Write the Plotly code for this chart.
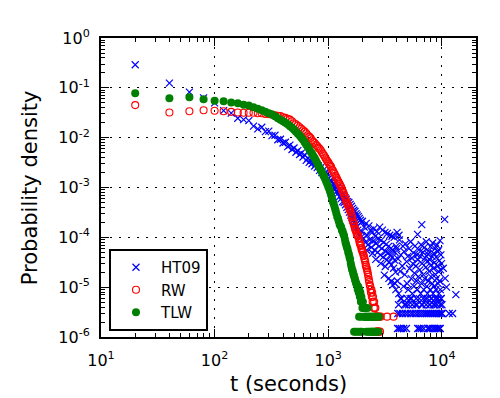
import plotly.graph_objects as go

# 20 s bins shared by the three curves up to 1000 s
t_head = [20, 40, 60, 80, 100, 120, 140, 160, 180, 200,
          220, 240, 260, 280, 300, 320, 340, 360, 380, 400,
          420, 440, 460, 480, 500, 520, 540, 560, 580, 600,
          620, 640, 660, 680, 700, 720, 740, 760, 780, 800,
          820, 840, 860, 880, 900, 920, 940, 960, 980, 1000]

ht09_head = [0.29, 0.124, 0.082, 0.063, 0.050, 0.035, 0.031, 0.0245, 0.023, 0.022,
             0.017, 0.015, 0.0162, 0.0132, 0.0135, 0.011, 0.0112, 0.0091, 0.0093, 0.0078,
             0.0081, 0.0066, 0.0071, 0.0058, 0.0062, 0.0051, 0.0055, 0.0046, 0.0049, 0.0041,
             0.0045, 0.0035, 0.0039, 0.0032, 0.0035, 0.0030, 0.0032, 0.0027, 0.0030, 0.0025,
             0.0027, 0.0022, 0.0025, 0.0020, 0.0022, 0.0018, 0.0020, 0.0016, 0.0019, 0.0015]

rw_head = [0.045, 0.032, 0.034, 0.0355, 0.0347, 0.034, 0.033, 0.032, 0.0316, 0.0316,
           0.0316, 0.031, 0.031, 0.030, 0.0295, 0.029, 0.028, 0.0275, 0.027, 0.0257,
           0.025, 0.024, 0.023, 0.0214, 0.0195, 0.0186, 0.0174, 0.0162, 0.0151, 0.0141,
           0.0132, 0.0123, 0.0112, 0.0105, 0.0098, 0.0089, 0.0083, 0.0078, 0.0072, 0.0068,
           0.0063, 0.0060, 0.0056, 0.0051, 0.0047, 0.0044, 0.0040, 0.0037, 0.0034, 0.0032]

tlw_head = [0.078, 0.062, 0.065, 0.059, 0.055, 0.054, 0.051, 0.049, 0.046, 0.044,
            0.041, 0.038, 0.0355, 0.033, 0.031, 0.029, 0.027, 0.0245, 0.023, 0.0214,
            0.020, 0.0186, 0.017, 0.0158, 0.0145, 0.0132, 0.012, 0.011, 0.0100, 0.0091,
            0.0081, 0.0072, 0.0066, 0.0059, 0.0052, 0.0048, 0.0043, 0.0039, 0.0035, 0.0031,
            0.00275, 0.0025, 0.00224, 0.00204, 0.00182, 0.00166, 0.00148, 0.00132, 0.00117, 0.00105]

# HT09 tail, 1020-1980 s
ht09_t_a = [1020, 1040, 1060, 1080, 1100, 1120, 1140, 1160, 1180, 1200,
            1220, 1240, 1260, 1280, 1300, 1320, 1340, 1360, 1380, 1400,
            1420, 1440, 1460, 1480, 1500, 1520, 1540, 1560, 1580, 1600,
            1620, 1640, 1660, 1680, 1700, 1720, 1740, 1760, 1780, 1800,
            1820, 1840, 1860, 1880, 1900, 1920, 1940, 1960, 1980]
ht09_p_a = [1.26e-3, 1.38e-3, 1.12e-3, 1.32e-3, 1.07e-3, 1.2e-3, 9.5e-4, 1.1e-3, 8.3e-4, 1.0e-3,
            7.6e-4, 8.9e-4, 6.6e-4, 8.3e-4, 6.0e-4, 7.2e-4, 5.2e-4, 6.9e-4, 5.0e-4, 6.3e-4,
            4.5e-4, 5.8e-4, 4.0e-4, 5.2e-4, 3.6e-4, 5.0e-4, 3.2e-4, 4.6e-4, 2.8e-4, 4.2e-4,
            2.5e-4, 3.8e-4, 2.2e-4, 3.5e-4, 2.0e-4, 3.3e-4, 1.8e-4, 3.0e-4, 1.6e-4, 2.8e-4,
            1.4e-4, 2.6e-4, 1.2e-4, 2.4e-4, 1.1e-4, 2.2e-4, 1.0e-4, 2.0e-4, 1.3e-4]

# HT09 tail, 2000-3960 s
ht09_t_b = [2000, 2040, 2080, 2120, 2160, 2200, 2240, 2280, 2320, 2360,
            2400, 2440, 2480, 2520, 2560, 2600, 2640, 2680, 2720, 2760,
            2800, 2840, 2880, 2920, 2960, 3000, 3040, 3080, 3120, 3160,
            3200, 3240, 3280, 3320, 3360, 3400, 3440, 3480, 3520, 3560,
            3600, 3640, 3680, 3720, 3760, 3800, 3840, 3880, 3920, 3960,
            2180, 2460, 2620, 2900, 3180, 3420, 3580, 3700, 3860, 3940]
ht09_p_b = [2.1e-4, 9.5e-5, 1.6e-4, 7.9e-5, 1.9e-4, 1.1e-4, 7.1e-5, 1.7e-4, 8.9e-5, 1.4e-4,
            6.3e-5, 1.26e-4, 8.3e-5, 1.5e-4, 5.6e-5, 1.05e-4, 7.6e-5, 1.3e-4, 5.0e-5, 9.5e-5,
            6.6e-5, 1.6e-4, 4.4e-5, 8.7e-5, 6.0e-5, 1.4e-4, 4.0e-5, 7.9e-5, 1.74e-5, 1.26e-4,
            5.2e-5, 7.2e-5, 3.5e-5, 1.2e-4, 4.8e-5, 6.6e-5, 3.2e-5, 1.1e-4, 4.4e-5, 6.0e-5,
            2.8e-5, 1.05e-4, 4.0e-5, 5.5e-5, 2.4e-5, 1.0e-4, 3.5e-5, 5.0e-5, 2.0e-5, 6.6e-5,
            5.5e-5, 4.8e-5, 3.6e-5, 3.0e-5, 2.6e-5, 1.5e-5, 1.3e-5, 1.1e-5, 1.2e-5, 8.9e-6]

# HT09 tail, 4000-9940 s
ht09_t_c = [4000, 4060, 4120, 4180, 4240, 4300, 4360, 4420, 4480, 4540,
            4600, 4660, 4720, 4780, 4840, 4900, 4960, 5020, 5080, 5140,
            5200, 5260, 5320, 5380, 5440, 5500, 5560, 5620, 5680, 5740,
            5800, 5860, 5920, 5980, 6040, 6100, 6160, 6220, 6280, 6340,
            6400, 6460, 6520, 6580, 6640, 6700, 6760, 6820, 6880, 6940,
            7000, 7060, 7120, 7180, 7240, 7300, 7360, 7420, 7480, 7540,
            7600, 7660, 7720, 7780, 7840, 7900, 7960, 8020, 8080, 8140,
            8200, 8260, 8320, 8380, 8440, 8500, 8560, 8620, 8680, 8740,
            8800, 8860, 8920, 8980, 9040, 9100, 9160, 9220, 9280, 9340,
            9400, 9460, 9520, 9580, 9640, 9700, 9760, 9820, 9880, 9940]
ht09_p_c = [5.92e-5, 1.33e-5, 3.7e-5, 7.4e-6, 8.88e-5, 2.07e-5, 4.44e-5, 5.9e-6, 2.66e-5, 6.66e-5,
            1.04e-5, 5.18e-5, 1.78e-5, 7.4e-5, 4.4e-6, 3.26e-5, 1.18e-5, 4.14e-5, 8.9e-6, 5.92e-5,
            2.37e-5, 5.9e-6, 8.14e-5, 1.48e-5, 3.85e-5, 7.4e-6, 2.96e-5, 4.88e-5, 1.04e-5, 1.92e-5,
            6.66e-5, 4.4e-6, 2.66e-5, 1.33e-5, 4.44e-5, 8.9e-6, 3.55e-5, 1.63e-5, 5.62e-5, 5.9e-6,
            2.22e-5, 4.14e-5, 7.4e-6, 7.1e-5, 1.18e-5, 2.96e-5, 4.4e-6, 5.03e-5, 1.78e-5, 8.9e-6,
            6.22e-5, 1.48e-5, 3.85e-5, 5.9e-6, 2.52e-5, 8.14e-5, 1.04e-5, 3.26e-5, 7.4e-6, 4.59e-5,
            1.33e-5, 5.33e-5, 2.07e-5, 4.4e-6, 3.55e-5, 8.9e-6, 6.51e-5, 1.63e-5, 2.81e-5, 5.9e-6,
            4.14e-5, 1.18e-5, 7.7e-5, 7.4e-6, 2.37e-5, 4.74e-5, 1.04e-5, 3.11e-5, 4.4e-6, 5.92e-5,
            1.78e-5, 8.9e-6, 4.0e-5, 1.48e-5, 6.96e-5, 5.9e-6, 2.66e-5, 5.18e-5, 1.18e-5, 2.07e-5,
            5.62e-5, 7.4e-6, 3.4e-5, 1.33e-5, 8.58e-5, 8.9e-6, 2.22e-5, 4.44e-5, 5.9e-6, 2.96e-5]

# HT09 low-count bins and stray points
ht09_t_low = [4080, 4220, 4400, 4620, 4880, 6140, 6320, 6580, 6920, 7520, 7720, 7940, 8320, 8620, 8880, 9180, 9460, 9700,
              4100, 4280, 4520, 4780, 5020, 5320, 5580, 5880, 6180, 6480, 6780, 7100, 7400, 7700, 8020, 8340,
              8660, 8980, 9300, 9620, 9960, 10100, 11600, 12440,
              4160, 4700, 5100, 5500, 6040, 6640, 7280, 7880, 8480, 9080, 9680, 10040,
              4340, 4940, 5400, 5960, 6860, 7460, 8060, 8760, 9240, 9860,
              4040, 4200, 6120, 6660, 10600, 13300, 10300, 10700, 11000]
ht09_p_low = [1.48e-6, 1.48e-6, 1.48e-6, 1.48e-6, 1.48e-6, 1.48e-6, 1.48e-6, 1.48e-6, 1.48e-6,
              1.48e-6, 1.48e-6, 1.48e-6, 1.48e-6, 1.48e-6, 1.48e-6, 1.48e-6, 1.48e-6, 1.48e-6,
              2.96e-6, 2.96e-6, 2.96e-6, 2.96e-6, 2.96e-6, 2.96e-6, 2.96e-6, 2.96e-6, 2.96e-6, 2.96e-6,
              2.96e-6, 2.96e-6, 2.96e-6, 2.96e-6, 2.96e-6, 2.96e-6, 2.96e-6, 2.96e-6, 2.96e-6, 2.96e-6,
              2.96e-6, 2.96e-6, 2.96e-6, 2.96e-6,
              4.44e-6, 4.44e-6, 4.44e-6, 4.44e-6, 4.44e-6, 4.44e-6, 4.44e-6, 4.44e-6, 4.44e-6, 4.44e-6,
              4.44e-6, 4.44e-6,
              5.92e-6, 5.92e-6, 5.92e-6, 5.92e-6, 5.92e-6, 5.92e-6, 5.92e-6, 5.92e-6, 5.92e-6, 5.92e-6,
              1.26e-4, 1.1e-4, 1.15e-4, 1.8e-4, 2.3e-4, 7.1e-6, 2.4e-5, 1.5e-5, 1.0e-5]

rw_t_tail = [1020, 1040, 1060, 1080, 1100, 1120, 1140, 1160, 1180, 1200,
             1220, 1240, 1260, 1280, 1300, 1320, 1340, 1360, 1380, 1400,
             1420, 1440, 1460, 1480, 1500, 1520, 1540, 1560, 1580, 1600,
             1620, 1640, 1660, 1680, 1700, 1720, 1740, 1760, 1780, 1800,
             1820, 1840, 1860, 1880, 1900, 1920, 1940, 1960, 1980, 2000,
             2020, 2040, 2060, 2080, 2100, 2120, 2140, 2160, 2180, 2200,
             2220, 2240, 2260, 2280, 2300, 2320, 2340, 2360, 2380, 2400,
             2420, 2440, 2460, 2480, 2500, 2520, 2540, 2560, 2580, 2600,
             2620, 2640, 2660, 2680, 2700, 2720, 2740, 2780, 2820, 2860,
             2900, 3300, 3760]
rw_p_tail = [0.00295, 0.00275, 0.0026, 0.0023, 0.0022, 0.0020, 0.00186, 0.0017, 0.00158, 0.00145,
             0.00135, 0.00126, 0.00117, 0.0011, 0.00102, 0.00093, 0.00085, 0.00079, 0.00072, 0.00066,
             0.0006, 0.00055, 0.0005, 0.00047, 0.00043, 0.0004, 0.00037, 0.00035, 0.00032, 0.00028,
             0.00025, 0.00022, 0.0002, 0.000186, 0.000166, 0.00015, 0.00014, 0.000132, 0.00012, 0.000112,
             0.000105, 0.00011, 9.5e-5, 8.3e-5, 7.6e-5, 7.1e-5, 6.8e-5, 6.0e-5, 5.6e-5, 5.2e-5,
             5.0e-5, 4.5e-5, 4.2e-5, 3.8e-5, 3.5e-5, 3.2e-5, 2.8e-5, 2.6e-5, 2.4e-5, 2.2e-5,
             2.0e-5, 1.8e-5, 1.6e-5, 1.4e-5, 1.26e-5, 1.1e-5, 1.05e-5, 8.96e-6, 7.7e-6, 8.96e-6,
             6.4e-6, 7.7e-6, 5.1e-6, 6.4e-6, 5.1e-6, 3.84e-6, 5.1e-6, 3.84e-6, 2.56e-6, 3.84e-6,
             2.56e-6, 1.28e-6, 2.56e-6, 2.56e-6, 1.28e-6, 2.56e-6, 1.28e-6, 1.28e-6, 2.56e-6, 1.28e-6,
             2.56e-6, 2.56e-6, 2.56e-6]

tlw_t_tail = [1020, 1040, 1060, 1080, 1100, 1120, 1140, 1160, 1180, 1200,
              1220, 1240, 1260, 1280, 1300, 1320, 1340, 1360, 1380, 1400,
              1420, 1440, 1460, 1480, 1500, 1520, 1540, 1560, 1580, 1600,
              1620, 1640, 1660, 1680, 1700, 1720, 1740, 1760, 1780, 1800,
              1820, 1840, 1860, 1880, 1900, 1920, 1940, 1960, 1980, 2000,
              2020, 2040, 2060, 2080, 2100, 2120, 2140, 2160, 2180, 2200,
              2220, 2240, 2260, 2280, 2300, 2320, 2360, 2380, 2400, 2420,
              2440, 2460, 2480, 2500, 2520, 2560, 2600, 2640, 2700, 2760,
              2800, 1690, 1750, 1830, 1910, 1970, 1870, 1950]
tlw_p_tail = [0.00093, 0.00081, 0.00071, 0.0006, 0.00052, 0.00046, 0.0004, 0.00035, 0.0003, 0.00026,
              0.00024, 0.00021, 0.00018, 0.00017, 0.00016, 0.000138, 0.000132, 0.000117, 0.000107, 9.3e-5,
              7.9e-5, 7.1e-5, 6.3e-5, 5.8e-5, 5.0e-5, 4.6e-5, 4.0e-5, 3.6e-5, 3.0e-5, 2.6e-5,
              2.3e-5, 2.14e-5, 1.9e-5, 1.74e-5, 1.6e-5, 1.45e-5, 1.32e-5, 1.2e-5, 1.15e-5, 1.05e-5,
              8.96e-6, 1.02e-5, 7.7e-6, 8.96e-6, 6.4e-6, 7.7e-6, 5.1e-6, 6.4e-6, 5.1e-6, 3.84e-6,
              5.1e-6, 3.84e-6, 2.56e-6, 3.84e-6, 2.56e-6, 3.84e-6, 2.56e-6, 1.28e-6, 2.56e-6, 2.56e-6,
              3.84e-6, 1.28e-6, 2.56e-6, 2.56e-6, 1.28e-6, 2.56e-6, 2.56e-6, 1.28e-6, 1.28e-6, 2.56e-6,
              2.56e-6, 1.28e-6, 2.56e-6, 1.28e-6, 2.56e-6, 1.28e-6, 2.56e-6, 1.28e-6, 2.56e-6, 1.28e-6,
              2.56e-6, 1.28e-6, 1.28e-6, 1.28e-6, 1.28e-6, 1.28e-6, 2.56e-6, 2.56e-6]

x_ticks = [10, 100, 1000, 10000]
x_ticktext = ["10<sup>1</sup>", "10<sup>2</sup>", "10<sup>3</sup>", "10<sup>4</sup>"]
y_ticks = [1e-6, 1e-5, 1e-4, 1e-3, 1e-2, 1e-1, 1]
y_ticktext = ["10<sup>-6</sup>", "10<sup>-5</sup>", "10<sup>-4</sup>", "10<sup>-3</sup>",
              "10<sup>-2</sup>", "10<sup>-1</sup>", "10<sup>0</sup>"]

FONT = "DejaVu Sans"

fig = go.Figure()
fig.add_trace(go.Scatter(
    x=t_head + ht09_t_a + ht09_t_b + ht09_t_c + ht09_t_low,
    y=ht09_head + ht09_p_a + ht09_p_b + ht09_p_c + ht09_p_low,
    mode="markers", name="HT09",
    marker=dict(symbol="x-thin", size=7, color="blue", line=dict(width=1.2, color="blue"))))
fig.add_trace(go.Scatter(
    x=t_head + rw_t_tail, y=rw_head + rw_p_tail,
    mode="markers", name="RW",
    marker=dict(symbol="circle-open", size=7, color="red", line=dict(width=1.1, color="red"))))
fig.add_trace(go.Scatter(
    x=t_head + tlw_t_tail, y=tlw_head + tlw_p_tail,
    mode="markers", name="TLW",
    marker=dict(symbol="circle", size=8, color="green", line=dict(width=0))))

# minor tick positions 2..9 in each decade
minor_x = [m * 10 ** e for e in range(1, 5) for m in range(2, 10)]
minor_y = [m * 10.0 ** e for e in range(-6, 0) for m in range(2, 10)]

axis_common = dict(
    type="log", showline=True, linewidth=2, linecolor="black", mirror="allticks",
    ticks="inside", ticklen=8, tickwidth=1.3, tickcolor="black",
    showgrid=True, gridcolor="black", gridwidth=1, griddash="2px,7px",
    zeroline=False, tickfont=dict(family=FONT, size=16, color="black"),
)

fig.update_xaxes(
    range=[1, 4.301], tickmode="array", tickvals=x_ticks, ticktext=x_ticktext,
    minor=dict(tickmode="array", tickvals=minor_x, ticks="inside", ticklen=4, tickcolor="black"),
    ticklabelstandoff=8, **axis_common)
fig.update_yaxes(
    range=[-6, 0], tickmode="array", tickvals=y_ticks, ticktext=y_ticktext,
    minor=dict(tickmode="array", tickvals=minor_y, ticks="inside", ticklen=4, tickcolor="black"),
    ticklabelstandoff=6, **axis_common)

fig.add_annotation(text="t (seconds)", xref="paper", yref="paper", x=0.5, y=-0.157,
                   xanchor="center", yanchor="middle", showarrow=False,
                   font=dict(family=FONT, size=21, color="black"))
fig.add_annotation(text="Probability density", xref="paper", yref="paper", x=-0.19, y=0.5,
                   xanchor="center", yanchor="middle", textangle=-90, showarrow=False,
                   font=dict(family=FONT, size=21, color="black"))

# the page body adds an 8 px offset, so the figure is 8 px smaller each way
fig.update_layout(
    width=492, height=390,
    margin=dict(l=93, r=24, t=30, b=61),
    paper_bgcolor="white", plot_bgcolor="white",
    font=dict(family=FONT, color="black"),
    showlegend=True,
    legend=dict(x=0.0213, y=0.02, xanchor="left", yanchor="bottom",
                bgcolor="white", bordercolor="black", borderwidth=2,
                font=dict(family=FONT, size=15, color="black"),
                itemwidth=40, tracegroupgap=0),
)

fig.write_html("out.html")
